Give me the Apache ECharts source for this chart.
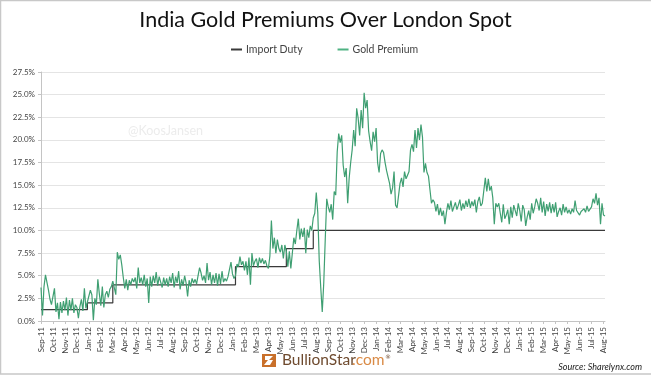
<!DOCTYPE html>
<html>
<head>
<title>India Gold Premiums Over London Spot</title>
<meta charset="UTF-8">
<script src="https://cdn.jsdelivr.net/npm/echarts@6/dist/echarts.min.js"></script>
<style>
html, body { margin: 0; padding: 0; background: #fff; }
#chart-container { width: 651px; height: 375px; }
</style>
</head>
<body>
<div id="chart-container"></div>
<script>
// month names on the x axis, every month holds 8 readings
var months = ['Sep-11','Oct-11','Nov-11','Dec-11',
'Jan-12','Feb-12','Mar-12','Apr-12','May-12','Jun-12','Jul-12','Aug-12','Sep-12','Oct-12','Nov-12','Dec-12',
'Jan-13','Feb-13','Mar-13','Apr-13','May-13','Jun-13','Jul-13','Aug-13','Sep-13','Oct-13','Nov-13','Dec-13',
'Jan-14','Feb-14','Mar-14','Apr-14','May-14','Jun-14','Jul-14','Aug-14','Sep-14','Oct-14','Nov-14','Dec-14',
'Jan-15','Feb-15','Mar-15','Apr-15','May-15','Jun-15','Jul-15','Aug-15'];
var readingsPerMonth = 8;

// gold premium in percent
var premium2011 = [
3.7,0.6,3.8,5.1,5.2,3.4,2.4,1.8,
1.7,3.6,1.0,2.0,0.2,2.1,0.9,2.2,
1.2,2.6,0.6,2.3,1.2,2.5,0.9,1.8,
1.5,0.3,1.6,2.4,1.1,3.6,1.4,2.1];
var premium2012 = [
1.9,3.4,2.9,0.1,2.5,1.8,4.6,3.0,
1.7,3.8,1.5,2.9,3.3,2.6,3.5,3.8,
4.4,4.2,2.9,7.6,6.8,7.3,6.2,4.8,
3.6,4.6,3.4,4.5,4.0,4.7,4.3,4.8,
3.6,5.9,4.2,4.8,4.0,5.1,3.8,4.7,
2.0,4.9,3.8,5.0,4.2,5.4,3.9,4.9,
4.3,3.7,4.8,4.0,4.7,3.8,4.9,4.2,
5.3,3.7,4.9,4.2,5.5,3.5,4.6,3.9,
5.0,4.2,2.7,4.5,3.8,4.7,4.2,4.6,
4.1,5.0,5.9,5.3,4.5,5.0,4.2,6.4,
4.5,5.4,4.0,5.1,4.2,5.3,3.9,5.2,
4.1,5.5,4.3,4.7,4.4,4.9,5.0,6.5];
var premium2013 = [
5.2,4.7,5.0,6.3,6.0,7.1,6.2,6.6,
5.6,6.6,5.1,7.0,4.0,7.5,6.1,6.6,
6.9,5.9,7.0,6.4,6.9,6.3,6.7,6.1,
5.8,7.2,11.1,8.0,9.2,7.5,9.0,8.0,
7.6,8.4,6.9,8.4,7.7,6.0,7.7,5.8,
7.5,9.2,8.5,10.0,11.3,9.0,10.2,9.3,
10.3,7.5,10.1,9.2,10.5,10.0,11.4,11.9,
14.2,12.0,6.6,3.7,1.0,4.2,9.0,13.5,
12.6,12.0,12.9,11.2,14.3,13.9,18.7,20.7,
19.7,20.5,17.2,15.9,16.9,13.0,15.8,17.5,
18.9,21.1,19.3,23.5,22.4,20.5,23.3,21.3,
25.2,23.5,24.4,21.0,19.8,18.8,20.9,19.8];
var premium2014 = [
21.3,17.5,16.4,18.5,18.9,18.6,17.5,16.6,
15.9,15.2,14.0,14.7,16.5,12.8,12.5,12.5,
15.2,15.8,14.8,16.5,15.7,16.1,16.5,18.9,
19.5,18.7,21.1,19.1,21.3,20.0,21.7,20.3,
16.4,17.4,16.4,16.0,14.5,13.0,13.4,13.1,
12.1,12.9,11.7,12.5,11.6,12.2,10.7,12.0,
13.0,12.3,13.3,12.1,12.6,13.1,12.3,12.8,
13.4,12.2,13.0,12.4,13.3,12.6,13.5,12.5,
13.2,12.7,13.4,12.0,13.2,13.7,12.7,13.0,
13.2,15.8,14.3,15.7,14.4,14.9,13.6,10.7,
13.0,12.6,13.0,11.9,10.9,12.9,11.3,11.7,
12.3,10.7,12.6,11.4,12.8,12.2,11.6,13.0];
var premium2015 = [
12.2,11.0,12.8,12.3,10.5,11.5,12.2,11.2,
13.0,11.9,12.6,13.5,13.0,12.2,13.6,12.0,
13.2,11.6,12.9,12.1,13.1,11.9,12.9,12.0,
13.1,11.5,12.1,12.5,11.7,12.9,12.0,12.6,
11.9,12.3,11.8,12.4,12.0,13.3,12.2,12.4,
11.7,12.1,11.9,12.4,12.0,12.7,12.1,11.9,
12.6,13.5,13.0,14.1,12.8,13.6,10.7,13.0,
11.7,11.6];
var goldPremium = premium2011.concat(premium2012, premium2013, premium2014, premium2015);

// import duty steps: reading number where each level starts, and the level
var dutyStart = [0, 31, 48, 130, 164, 182, 377];
var dutyLevel = [1.25, 2, 4, 6, 8, 10, 10];

var categories = [];
for (var m = 0; m < months.length; m++) {
  for (var r = 0; r < readingsPerMonth; r++) {
    categories.push(months[m]);
  }
}
categories = categories.slice(0, goldPremium.length);

var dutyData = dutyStart.map(function(s, i) { return [s, dutyLevel[i]]; });

function isMonthStart(index) {
  return index % readingsPerMonth === 0;
}

var myChart = echarts.init(document.getElementById('chart-container'), null, { renderer: 'canvas' });

myChart.setOption({
  animation: false,
  textStyle: { fontFamily: 'Lato' },
  title: {
    text: 'India Gold Premiums Over London Spot',
    left: 'center',
    top: 4,
    textStyle: { fontFamily: 'Lato', fontSize: 21.5, fontWeight: 'normal', color: '#111' }
  },
  legend: {
    top: 44,
    left: 231,
    padding: 0,
    itemGap: 35,
    itemWidth: 11,
    itemHeight: 2,
    icon: 'rect',
    data: ['Import Duty', 'Gold Premium'],
    textStyle: { fontFamily: 'Lato', fontSize: 10.5, color: '#444', padding: [0, 0, 0, -1] }
  },
  grid: { left: 41, right: 46, top: 72, bottom: 54 },
  xAxis: {
    type: 'category',
    data: categories,
    boundaryGap: false,
    axisLine: { lineStyle: { color: '#c4c4c4', width: 1 } },
    axisTick: { length: 3, interval: function(i) { return isMonthStart(i); }, lineStyle: { color: '#c4c4c4' } },
    axisLabel: {
      rotate: 90,
      interval: function(i) { return isMonthStart(i); },
      fontSize: 8,
      margin: 6,
      color: '#444',
      hideOverlap: false
    },
    splitLine: { show: false }
  },
  yAxis: {
    type: 'value',
    min: 0,
    max: 27.5,
    interval: 2.5,
    axisLine: { show: true, lineStyle: { color: '#c4c4c4', width: 1 } },
    axisTick: { show: true, length: 3, lineStyle: { color: '#c4c4c4' } },
    axisLabel: {
      fontSize: 8,
      margin: 6,
      color: '#444',
      formatter: function(v) { return v.toFixed(1) + '%'; }
    },
    splitLine: { show: true, lineStyle: { color: '#e4e4e4', width: 1 } }
  },
  series: [
    {
      name: 'Import Duty',
      type: 'line',
      step: 'end',
      data: dutyData,
      showSymbol: false,
      symbol: 'none',
      itemStyle: { color: '#3a3a3a' },
      lineStyle: { color: '#3a3a3a', width: 1.2 }
    },
    {
      name: 'Gold Premium',
      type: 'line',
      data: goldPremium,
      showSymbol: false,
      symbol: 'none',
      itemStyle: { color: '#4fb283' },
      lineStyle: { color: '#3f9f72', width: 1.2 }
    }
  ],
  graphic: [
    // frame
    { type: 'polyline', shape: { points: [[651, 0.5], [0.5, 0.5], [0.5, 374], [651, 374]] }, style: { stroke: '#c8c8c8', lineWidth: 1.5, fill: null } },
    // watermark
    { type: 'text', left: 128, top: 124, style: { text: '@KoosJansen', fontFamily: 'Lato', fontSize: 12.5, fill: '#ececec' } },
    // logo
    { type: 'rect', shape: { x: 262, y: 354, width: 14, height: 13 }, style: { fill: '#c9702a' } },
    { type: 'polygon', shape: { points: [[265, 356], [273, 356], [269, 360], [273, 360], [270, 365], [264, 365], [268, 360], [265, 360]] }, style: { fill: '#fff' } },
    { type: 'text', left: 282, top: 352, style: { text: 'BullionStar', fontFamily: 'Lato', fontSize: 15.5, fill: '#6e4a2e' } },
    { type: 'text', left: 352, top: 352, style: { text: '.com', fontFamily: 'Lato', fontSize: 15.5, fill: '#d98a45' } },
    { type: 'text', style: { x: 385, y: 354, text: '®', fontFamily: 'DejaVu Sans', fontSize: 6, fill: '#6e4a2e' } },
    // source
    { type: 'text', right: 9, top: 363, style: { text: 'Source: Sharelynx.com', fontFamily: 'Lato', fontStyle: 'italic', fontSize: 9, fill: '#222' } }
  ]
});
</script>
</body>
</html>
